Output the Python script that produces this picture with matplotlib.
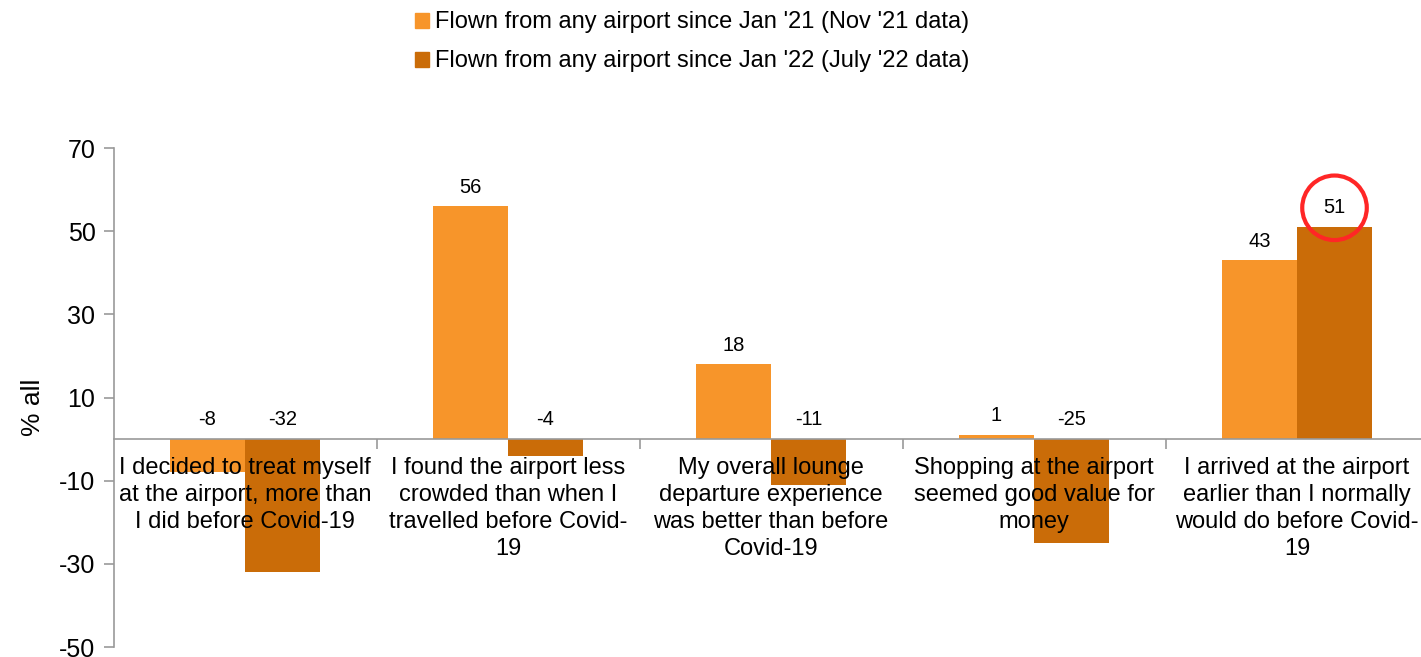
import matplotlib
matplotlib.use('Agg')
import matplotlib.pyplot as plt
import numpy as np
from matplotlib.patches import Patch

plt.rcParams['font.family'] = ['Liberation Sans', 'DejaVu Sans']
plt.rcParams['axes.unicode_minus'] = False

# data
categories = ['I decided to treat myself\nat the airport, more than\nI did before Covid-19',
              'I found the airport less\ncrowded than when I\ntravelled before Covid-\n19',
              'My overall lounge\ndeparture experience\nwas better than before\nCovid-19',
              'Shopping at the airport\nseemed good value for\nmoney',
              'I arrived at the airport\nearlier than I normally\nwould do before Covid-\n19']
nov21 = [-8, 56, 18, 1, 43]
jul22 = [-32, -4, -11, -25, 51]
series_names = ["Flown from any airport since Jan '21 (Nov '21 data)",
                "Flown from any airport since Jan '22 (July '22 data)"]
yticks = [70, 50, 30, 10, -10, -30, -50]

col1 = '#F7952A'
col2 = '#CA6C08'
grey = '#999999'

fig = plt.figure(figsize=(14.21, 6.57), dpi=100)
ax = fig.add_axes([0.0799, 0.0152, 0.9254, 0.7595])

x = np.arange(len(categories))
w = 0.285
b1 = ax.bar(x - w/2, nov21, w, color=col1)
b2 = ax.bar(x + w/2, jul22, w, color=col2)

last = len(jul22) - 1
for k, (bars, vals) in enumerate(((b1, nov21), (b2, jul22))):
    for i, (rect, v) in enumerate(zip(bars, vals)):
        box = None
        if k == 1 and i == last:
            # highlighted value
            box = dict(boxstyle='circle,pad=1.05', fc='none', ec='#FF2626', lw=3)
        ax.annotate(str(v), (rect.get_x() + rect.get_width()/2, max(v, 0)),
                    xytext=(0, 7), textcoords='offset points',
                    ha='center', va='bottom', fontsize=14.5, bbox=box,
                    annotation_clip=False)

for i, lab in enumerate(categories):
    ax.text(x[i], -4.3, lab, ha='center', va='top', fontsize=17, linespacing=1.3)

ax.set_xlim(-0.5, len(categories) - 0.5)
ax.set_ylim(-50, 70)
ax.set_yticks(yticks)
ax.set_xticks(np.arange(0.5, len(categories) - 0.5, 1.0))
ax.set_xticklabels([])
ax.tick_params(axis='y', labelsize=18, color=grey, length=7, width=1.2, pad=6)
ax.tick_params(axis='x', color=grey, length=7, width=1.2, direction='out')
ax.spines['top'].set_visible(False)
ax.spines['right'].set_visible(False)
ax.spines['left'].set_color(grey)
ax.spines['left'].set_linewidth(1.2)
ax.spines['bottom'].set_position(('data', 0))
ax.spines['bottom'].set_color(grey)
ax.spines['bottom'].set_linewidth(1.2)
ax.set_ylabel('% all', fontsize=19)
ax.yaxis.set_label_coords(-0.052, 0.48)

handles = [Patch(color=col1), Patch(color=col2)]
fig.legend(handles, series_names, loc='upper left', bbox_to_anchor=(0.277, 1.015),
           frameon=False, fontsize=17, handlelength=0.6, handleheight=0.6,
           handletextpad=0.25, labelspacing=0.72)

fig.savefig('out.png', dpi=100)
